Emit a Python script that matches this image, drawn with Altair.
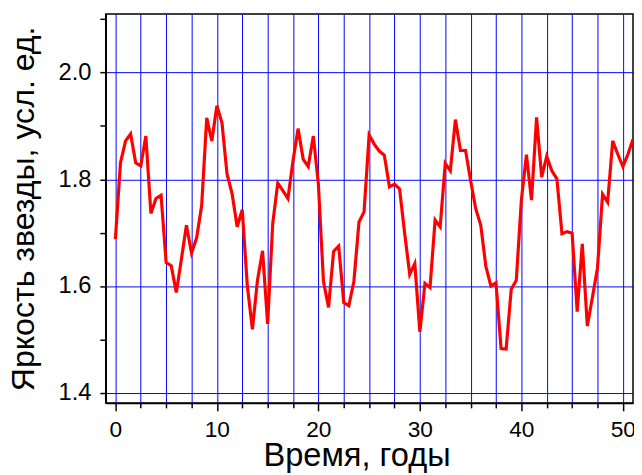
import altair as alt
import pandas as pd

brightness = [
    1.688, 1.831, 1.872, 1.885, 1.831, 1.825, 1.881, 1.736, 1.764, 1.770,
    1.644, 1.638, 1.588, 1.650, 1.714, 1.662, 1.690, 1.751, 1.915, 1.872,
    1.938, 1.906, 1.810, 1.773, 1.711, 1.743, 1.600, 1.519, 1.611, 1.666,
    1.529, 1.717, 1.793, 1.779, 1.764, 1.835, 1.895, 1.838, 1.824, 1.881,
    1.791, 1.609, 1.560, 1.665, 1.675, 1.569, 1.563, 1.609, 1.720, 1.739,
    1.883, 1.866, 1.853, 1.845, 1.786, 1.791, 1.782, 1.699, 1.622, 1.642,
    1.514, 1.605, 1.597, 1.724, 1.711, 1.830, 1.816, 1.912, 1.854, 1.854,
    1.798, 1.745, 1.714, 1.637, 1.600, 1.606, 1.483, 1.482, 1.594, 1.611,
    1.761, 1.846, 1.761, 1.916, 1.804, 1.843, 1.816, 1.801, 1.698, 1.702,
    1.699, 1.552, 1.679, 1.525, 1.579, 1.634, 1.772, 1.757, 1.872, 1.847,
    1.824, 1.847, 1.875,
]
years = [i * 0.5 for i in range(len(brightness))]

x_ticks = [0, 2.5, 5, 7.5, 10, 12.5, 15, 17.5, 20, 22.5, 25, 27.5, 30,
           32.5, 35, 37.5, 40, 42.5, 45, 47.5, 50]
y_ticks = [1.4, 1.5, 1.6, 1.7, 1.8, 1.9, 2.0, 2.1]

df = pd.DataFrame({"year": years, "brightness": brightness})

x_major = "datum.value % 10 === 0"
y_major = "round(datum.value * 10) % 2 === 0"

chart = (
    alt.Chart(df)
    .mark_line(color="#ff0000", strokeWidth=3.2, clip=True)
    .encode(
        x=alt.X(
            "year:Q",
            scale=alt.Scale(domain=[-0.95, 51.0], nice=False, zero=False),
            axis=alt.Axis(
                values=x_ticks,
                labelExpr=f"{x_major} ? format(datum.value, 'd') : ''",
                title="Время, годы",
                grid=True,
                gridColor="#0000ff",
                gridOpacity=1,
                gridWidth=1,
                tickSize={"condition": {"test": x_major, "value": 8}, "value": 5},
                labelPadding=8,
                labelFontSize=23,
                titleX=254,
                titleY=63,
                titleFontSize=33,
                titleAnchor="middle",
                titleAlign="center",
                titleBaseline="alphabetic",
            ),
        ),
        y=alt.Y(
            "brightness:Q",
            scale=alt.Scale(domain=[1.381, 2.11], nice=False, zero=False),
            axis=alt.Axis(
                values=y_ticks,
                labelExpr=f"{y_major} ? format(datum.value, '.1f') : ''",
                title="Яркость звезды, усл. ед.",
                grid=True,
                gridColor="#0000ff",
                gridOpacity={"condition": {"test": y_major, "value": 1}, "value": 0},
                gridWidth=1,
                tickSize=6,
                labelPadding=9,
                labelFontSize=24,
                titleX=-73,
                titleY=197,
                titleFontSize=32.5,
                titleAngle=270,
                titleAlign="center",
                titleBaseline="alphabetic",
            ),
        ),
    )
    .properties(
        width=534,
        height=394,
        autosize=alt.AutoSizeParams(type="none"),
        padding={"left": 99, "top": 3, "right": 1, "bottom": 68},
    )
    .configure_view(stroke="#000000", strokeWidth=1.5)
    .configure_axis(
        domainColor="#000000",
        domainWidth=1.5,
        tickColor="#000000",
        tickWidth=1.5,
        labelFont="Liberation Sans",
        labelColor="#000000",
        titleFont="Liberation Sans",
        titleFontWeight="normal",
        titleColor="#000000",
    )
)

chart.save("out.html", embed_options={"renderer": "svg", "actions": False})
